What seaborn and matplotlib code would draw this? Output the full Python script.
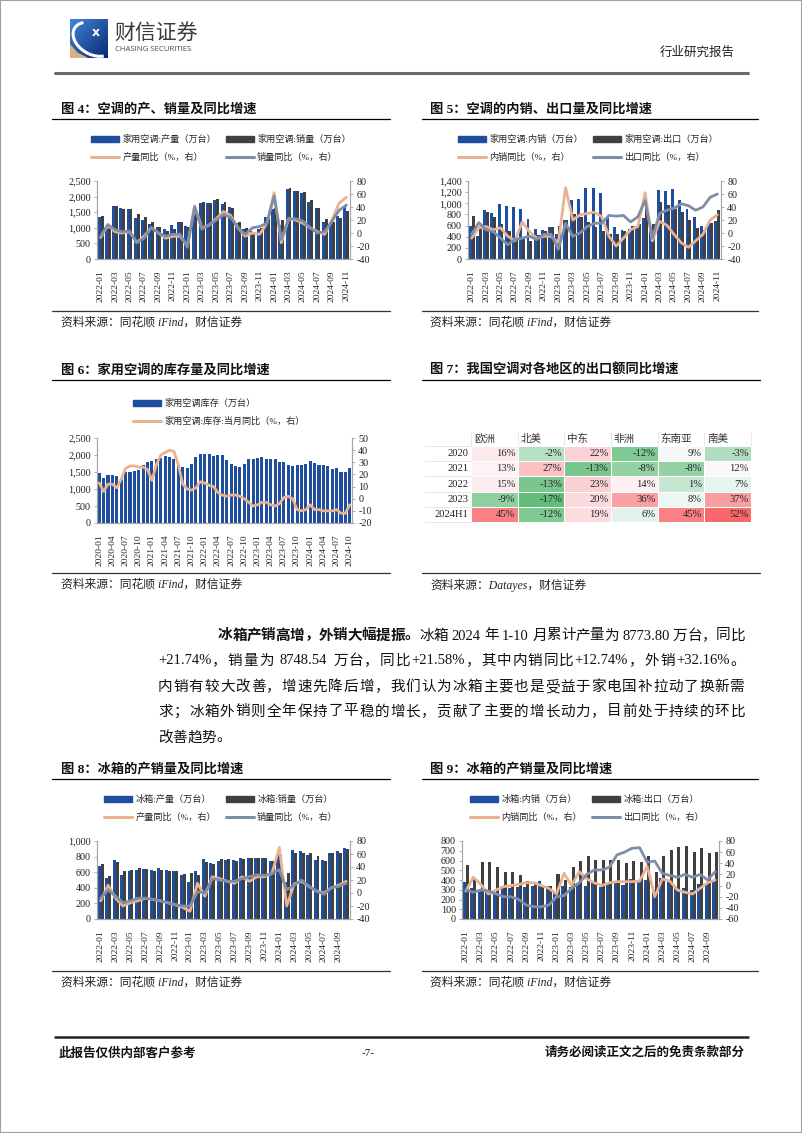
import re
import numpy as np
import pandas as pd
import matplotlib
matplotlib.use('Agg')
import matplotlib.pyplot as plt
import seaborn as sns
from matplotlib.colors import LinearSegmentedColormap, TwoSlopeNorm
from matplotlib.lines import Line2D
from matplotlib.patches import Rectangle, Polygon, Arc
from matplotlib.ticker import FuncFormatter
from matplotlib.transforms import Affine2D

W, H = 802, 1133


def month_range(y0, m0, count):
    out = []
    y, m = y0, m0
    for _ in range(count):
        out.append(f'{y}-{m:02d}')
        m += 1
        if m > 12:
            y, m = y + 1, 1
    return out


# ---- 图4 空调产销 ----
ac_months = month_range(2022, 1, 35)
ac_prod = [1340, 950, 1690, 1620, 1590, 1300, 1250, 1130, 1030, 950, 1100, 1170,
           1060, 1400, 1780, 1800, 1900, 1750, 1660, 1150, 950, 900, 950, 1350,
           1600, 1100, 2230, 2180, 2120, 1830, 1620, 1170, 1200, 1380, 1700]
ac_sales = [1370, 1000, 1710, 1600, 1610, 1450, 1350, 1200, 1030, 900, 960, 1170,
            1030, 1450, 1840, 1780, 1930, 1830, 1640, 1200, 1000, 870, 1000, 1370,
            1650, 1240, 2260, 2180, 2150, 1900, 1620, 1290, 1200, 1320, 1530]
ac_prod_yoy = [-7, 12, 2, 0, 2, -15, -5, 8, 0, -8, -5, -5,
               -20, 42, 8, 12, 22, 33, 27, 8, -5, 0, -2, 15,
               62, -15, 22, 20, 15, 8, 2, -2, 20, 46, 55]
ac_sales_yoy = [-5, 13, 5, 2, 3, -15, -8, 8, 0, -5, -2, -2,
                -22, 40, 6, 12, 20, 28, 24, 8, -2, 8, 10, 15,
                57, -10, 22, 22, 18, 8, 0, 2, 18, 35, 43]

# ---- 图5 空调内销/出口 ----
ac_dom = [590, 420, 880, 820, 980, 950, 930, 900, 720, 540, 520, 570,
          450, 700, 1060, 1080, 1270, 1270, 1180, 760, 570, 520, 530, 600,
          730, 500, 1230, 1220, 1250, 1060, 900, 760, 600, 650, 690]
ac_exp = [780, 600, 840, 760, 620, 500, 400, 380, 330, 430, 500, 580,
          600, 700, 800, 760, 660, 570, 500, 450, 440, 500, 600, 620,
          950, 620, 1020, 970, 900, 840, 700, 550, 520, 650, 880]
ac_dom_yoy = [-8, 8, 10, 5, 8, -5, -12, 17, 2, -8, -5, -5,
              -15, 70, 20, 28, 30, 32, 25, -5, -20, -8, 5, 10,
              62, -12, 18, 12, -2, -15, -22, -12, -2, 20, 28]
ac_exp_yoy = [-2, 16, 5, 2, -8, -18, -10, -8, -5, -10, -2, -2,
              -25, 15, -5, 0, 10, 15, 15, 27, 26, 27, 17, 25,
              50, -8, 30, 35, 38, 45, 42, 35, 40, 55, 60]

# ---- 图6 空调库存 ----
inv_months = month_range(2020, 1, 58)
inv_level = [1460, 1320, 1400, 1400, 1380, 1300, 1500, 1500, 1530, 1570, 1700, 1800,
             1820, 1870, 1920, 1960, 1940, 1880, 1720, 1640, 1620, 1740, 1940, 2040,
             2040, 2040, 1970, 2000, 2000, 1850, 1740, 1680, 1640, 1740, 1880, 1880,
             1910, 1940, 1880, 1880, 1880, 1800, 1800, 1710, 1680, 1710, 1710, 1740,
             1820, 1770, 1700, 1700, 1680, 1600, 1610, 1490, 1490, 1610]
inv_yoy = [13, 6, 12, 12, 9, 16, 25, 27, 27, 26, 26, 24,
           15, 28, 36, 38, 40, 39, 28, 12, 8, 7, 9, 14,
           13, 11, 10, 5, 3, 2, 3, 3, 2, 0, -3, -6,
           -5, -3, -3, -5, -6, -4, 1, 2, 0, -9, -10, -9,
           -5, -9, -9, -10, -10, -10, -9, -12, -12, -5]

# ---- 图7 出口额同比 ----
regions = ['欧洲', '北美', '中东', '非洲', '东南亚', '南美']
years = ['2020', '2021', '2022', '2023', '2024H1']
g2020 = [16, -2, 22, -12, 9, -3]
g2021 = [13, 27, -13, -8, -8, 12]
g2022 = [15, -13, 23, 14, 1, 7]
g2023 = [-9, -17, 20, 36, 8, 37]
g2024h1 = [45, -12, 19, 6, 45, 52]

# ---- 图8 冰箱产销 ----
fr_months = month_range(2022, 1, 34)
fr_prod = [680, 530, 760, 560, 610, 630, 640, 630, 650, 630, 610, 560,
           480, 610, 770, 720, 750, 760, 760, 780, 780, 780, 780, 750,
           830, 480, 880, 870, 820, 760, 760, 850, 870, 910]
fr_sales = [710, 550, 730, 610, 630, 650, 640, 620, 630, 610, 610, 580,
            590, 570, 730, 710, 770, 770, 750, 770, 780, 780, 780, 740,
            820, 590, 840, 840, 840, 810, 750, 850, 840, 900]
fr_prod_yoy = [-12, 12, -8, -20, -15, -12, -8, -10, -12, -15, -18, -22,
               -28, 15, -5, 25, 22, 18, 15, 25, 18, 25, 25, 30,
               70, -20, 14, 18, 10, 3, 0, 8, 12, 18]
fr_sales_yoy = [-8, 5, -5, -15, -12, -8, -8, -10, -12, -15, -18, -20,
                -20, 2, 0, 22, 20, 18, 18, 22, 25, 28, 27, 30,
                36, 5, 12, 20, 10, 3, -2, 8, 10, 15]

# ---- 图9 冰箱内销/出口 ----
fr_dom = [380, 320, 300, 300, 270, 340, 320, 330, 330, 340, 390, 340,
          280, 340, 330, 370, 340, 370, 330, 360, 370, 350, 410, 380,
          400, 300, 420, 380, 330, 320, 300, 360, 360, 400]
fr_exp = [550, 420, 580, 580, 530, 480, 480, 450, 390, 360, 350, 340,
          460, 400, 530, 590, 650, 610, 610, 610, 610, 570, 590, 580,
          650, 480, 650, 710, 740, 750, 690, 730, 680, 690]
fr_dom_yoy = [-10, 15, 2, -15, -8, -2, 0, 2, 5, 5, 0, -5,
              -15, 22, 0, 25, 12, 5, 0, 5, 7, 7, 7, 8,
              35, -20, 12, 8, -8, -12, -15, -5, 5, 10]
fr_exp_yoy = [-8, -12, -8, -10, -15, -20, -20, -25, -35, -38, -38, -35,
              -20, -18, -5, 5, 20, 28, 28, 33, 55, 60, 67, 68,
              42, 44, 22, 18, 15, 20, 15, 20, 10, 25]

BLUE = '#1F4E9E'
DARK = '#404040'
TAN = '#E8B38E'
GREYBLUE = '#7F8EA8'
SPINE = '#A6A6A6'

sns.set_theme(style='white')
plt.rcParams['font.family'] = ['Liberation Serif', 'Noto Sans CJK SC']
plt.rcParams['axes.unicode_minus'] = False

fig = plt.figure(figsize=(W / 100, H / 100), dpi=100)
PX = Affine2D().scale(1 / W, -1 / H).translate(0, 1) + fig.transFigure


def px_rect(x0, y0, x1, y1):
    return [x0 / W, 1 - y1 / H, (x1 - x0) / W, (y1 - y0) / H]


def hline(x0, x1, y, lw=0.9, color='black'):
    fig.add_artist(Line2D([x0, x1], [y, y], transform=PX, color=color, lw=lw))


def caption(x, y, text, x0, x1):
    fig.text(x, y, text, transform=PX, fontsize=9.5, fontweight='bold', va='center', ha='left', color='#111')
    hline(x0, x1, y + 10)


def source(x, y, text, x0, x1):
    hline(x0, x1, y - 12, lw=0.9, color='#333')
    fig.text(x, y, text, transform=PX, fontsize=8.5, style='italic', va='center', ha='left', color='#222')


def combo(box, months, bar_vals, bar_names, bar_colors, line_vals, line_names, line_colors,
          ylim, ystep, y2lim, y2step, every, leg_cx, leg_top, ncol=2, bar_width=0.8):
    ax = fig.add_axes(px_rect(*box))
    n = len(months)
    df = pd.DataFrame({
        '月份': np.tile(months, len(bar_vals)),
        '数值': np.concatenate(bar_vals),
        '系列': np.repeat(bar_names, n),
    })
    sns.barplot(data=df, x='月份', y='数值', hue='系列', hue_order=bar_names, palette=bar_colors,
                width=bar_width, gap=0, saturation=1, linewidth=0, legend=False, ax=ax)
    ax2 = ax.twinx()
    for vals, name, c in zip(line_vals, line_names, line_colors):
        sns.lineplot(x=np.arange(n), y=vals, color=c, lw=2.0, legend=False, ax=ax2)
    ax.set_xlim(-0.5, n - 0.5)
    ticks = list(range(0, n, every))
    ax.set_xticks(ticks)
    ax.set_xticklabels([months[i] for i in ticks], rotation=90)
    ax.set_ylim(*ylim)
    ax.set_yticks(np.arange(ylim[0], ylim[1] + 1, ystep))
    ax.yaxis.set_major_formatter(FuncFormatter(lambda v, p: f'{v:,.0f}'))
    ax2.set_ylim(*y2lim)
    ax2.set_yticks(np.arange(y2lim[0], y2lim[1] + 1, y2step))
    ax.set_xlabel('')
    ax.set_ylabel('')
    ax2.set_ylabel('')
    for a in (ax, ax2):
        for s in a.spines.values():
            s.set_color(SPINE)
            s.set_linewidth(0.8)
        a.spines['top'].set_visible(False)
    ax.tick_params(axis='y', left=True, labelsize=7.3, length=2.5, width=0.6, color=SPINE, pad=2, labelcolor='#222')
    ax2.tick_params(axis='y', right=True, labelsize=7.3, length=2.5, width=0.6, color=SPINE, pad=2, labelcolor='#222')
    ax.tick_params(axis='x', bottom=False, labelsize=6.8, pad=2, labelcolor='#222')

    handles, labels = [], []
    bars = [Rectangle((0, 0), 1, 1, color=c) for c in bar_colors]
    lines = [Line2D([], [], color=c, lw=2.2) for c in line_colors]
    if ncol == 2:
        for b, bn, l, ln in zip(bars, bar_names, lines, line_names):
            handles += [b, l]
            labels += [bn, ln]
    else:
        handles = bars + lines
        labels = list(bar_names) + list(line_names)
    fig.legend(handles, labels, loc='upper center', bbox_to_anchor=(leg_cx, leg_top), bbox_transform=PX,
               ncol=ncol, frameon=False, prop={'size': 6.6}, handlelength=3.0, handleheight=0.75,
               handletextpad=0.4, columnspacing=1.1, labelspacing=0.95, borderpad=0, borderaxespad=0)
    return ax, ax2


# ---------------- page header ----------------
fig.add_artist(Rectangle((0, 0), 1, 1, transform=fig.transFigure, fill=False, ec='#a0a0a0', lw=1.5))

logo = fig.add_axes(px_rect(70, 19, 108, 58))
grad = np.linspace(0, 1, 60)
gx, gy = np.meshgrid(grad, grad)
t = (gx + gy) / 2
c0 = np.array([0.26, 0.52, 0.85])
c1 = np.array([0.04, 0.16, 0.45])
img = c0[None, None, :] * (1 - t[..., None]) + c1[None, None, :] * t[..., None]
logo.imshow(img, extent=(0, 1, 0, 1), origin='upper', aspect='auto')
logo.add_patch(Polygon([(0, 0), (0.48, 0), (0.2, 0.14), (0, 0.36)], closed=True, color='#D9AE8A', lw=0))
logo.add_patch(Arc((0.62, 0.48), 1.15, 0.78, angle=-28, theta1=150, theta2=330, color='white', lw=2.2))
logo.text(0.68, 0.66, 'x', color='white', fontsize=9, fontweight='bold', ha='center', va='center',
          family='DejaVu Sans')
logo.set_xlim(0, 1)
logo.set_ylim(0, 1)
logo.axis('off')

fig.text(114, 33, '财信证券', transform=PX, fontsize=15, family='Noto Sans CJK SC', color='#3a3a3a',
         va='center', ha='left')
fig.text(115, 49.5, 'CHASING SECURITIES', transform=PX, fontsize=5.6, family='Open Sans', color='#4a4a4a',
         va='center', ha='left')
fig.text(735, 53, '行业研究报告', transform=PX, fontsize=9, color='#222', va='center', ha='right')
hline(55, 748, 73, lw=2.2, color='#6a6a6a')

# ---------------- figure 4 ----------------
caption(61, 109, '图 4：空调的产、销量及同比增速', 52, 390)
combo((97, 181, 350, 259), ac_months, [ac_prod, ac_sales], ['家用空调:产量（万台）', '家用空调:销量（万台）'],
      [BLUE, DARK], [ac_prod_yoy, ac_sales_yoy], ['产量同比（%，右）', '销量同比（%，右）'], [TAN, GREYBLUE],
      (0, 2500), 500, (-40, 80), 20, 2, 221, 135)
source(61, 323, '资料来源：同花顺 iFind，财信证券', 52, 390)

# ---------------- figure 5 ----------------
caption(430, 109, '图 5：空调的内销、出口量及同比增速', 422, 758)
combo((468, 181, 721, 259), ac_months, [ac_dom, ac_exp], ['家用空调:内销（万台）', '家用空调:出口（万台）'],
      [BLUE, DARK], [ac_dom_yoy, ac_exp_yoy], ['内销同比（%，右）', '出口同比（%，右）'], [TAN, GREYBLUE],
      (0, 1400), 200, (-40, 80), 20, 2, 588, 135)
source(430, 323, '资料来源：同花顺 iFind，财信证券', 422, 758)

# ---------------- figure 6 ----------------
caption(61, 370, '图 6：家用空调的库存量及同比增速', 52, 390)
combo((97, 438, 352, 523), inv_months, [inv_level], ['家用空调库存（万台）'], [BLUE],
      [inv_yoy], ['家用空调:库存:当月同比（%，右）'], [TAN],
      (0, 2500), 500, (-20, 50), 10, 3, 219, 399, ncol=1, bar_width=0.7)
source(61, 585, '资料来源：同花顺 iFind，财信证券', 52, 390)

# ---------------- figure 7 ----------------
caption(430, 370, '图 7：我国空调对各地区的出口额同比增速', 422, 760)
hm = pd.DataFrame([g2020, g2021, g2022, g2023, g2024h1], index=years, columns=regions)
cmap = LinearSegmentedColormap.from_list('cs', ['#63BE7B', '#FCFCFF', '#F8696B'])
hm_ax = fig.add_axes(px_rect(471, 446, 751, 522))
sns.heatmap(hm, ax=hm_ax, cmap=cmap, norm=TwoSlopeNorm(vmin=-17, vcenter=10.5, vmax=52), cbar=False,
            annot=hm.map(lambda v: f'{v}%'), fmt='', linewidths=0.6, linecolor='white',
            xticklabels=regions, yticklabels=years,
            annot_kws={'fontsize': 7.6, 'color': '#222'})
for txt in hm_ax.texts:
    x, y = txt.get_position()
    txt.set_position((x + 0.45, y))
    txt.set_ha('right')
hm_ax.xaxis.tick_top()
hm_ax.set_xticks(np.arange(len(regions)) + 0.06)
hm_ax.set_xticklabels(regions, ha='left', rotation=0)
hm_ax.set_yticks(np.arange(len(years)) + 0.5)
hm_ax.set_yticklabels(years, rotation=0)
hm_ax.tick_params(axis='x', length=0, pad=1.5, labelsize=7.6, labelcolor='#333')
hm_ax.tick_params(axis='y', length=0, pad=2, labelsize=7.6, labelcolor='#222')
hm_ax.set_xlabel('')
hm_ax.set_ylabel('')
hm_ax.vlines(np.arange(len(regions) + 1), -0.93, 0, color='#E3E3E3', lw=0.6, clip_on=False)
for r in range(len(years) + 1):
    hm_ax.plot([-0.164 * len(regions), 0], [r, r], color='#E3E3E3', lw=0.6, clip_on=False)
source(430, 585, '资料来源：Datayes，财信证券', 422, 760)

# ---------------- paragraph ----------------
renderer = fig.canvas.get_renderer()
SPACE_W = 4.0


def text_line(y, x0, x1, parts, justify=True):
    items = []
    for s, weight in parts:
        for tok in re.findall(r'[0-9A-Za-z.+%\-]+| |.', s):
            items.append((tok, weight))
    arts, widths = [], []
    for tok, weight in items:
        if tok == ' ':
            arts.append(None)
            widths.append(SPACE_W)
            continue
        tt = fig.text(0, y, tok, transform=PX, fontsize=10.5, fontweight=weight, va='center', ha='left',
                      color='#111')
        arts.append(tt)
        widths.append(tt.get_window_extent(renderer).width)
    extra = (x1 - x0 - sum(widths)) / (len(arts) - 1) if justify else 0
    x = x0
    for a, w in zip(arts, widths):
        if a is not None:
            a.set_x(x)
        x += w + extra


text_line(636, 218, 745, [('冰箱产销高增，外销大幅提振。', 'bold'),
                          ('冰箱 2024 年 1-10 月累计产量为 8773.80 万台，同比', 'normal')])
text_line(661, 158, 745, [('+21.74%，销量为 8748.54 万台，同比+21.58%，其中内销同比+12.74%，外销+32.16%。', 'normal')])
text_line(687, 158, 745, [('内销有较大改善，增速先降后增，我们认为冰箱主要也是受益于家电国补拉动了换新需', 'normal')])
text_line(712, 158, 745, [('求；冰箱外销则全年保持了平稳的增长，贡献了主要的增长动力，目前处于持续的环比', 'normal')])
text_line(738, 158, 745, [('改善趋势。', 'normal')], justify=False)

# ---------------- figure 8 ----------------
caption(61, 769, '图 8：冰箱的产销量及同比增速', 52, 390)
combo((97, 841, 350, 919), fr_months, [fr_prod, fr_sales], ['冰箱:产量（万台）', '冰箱:销量（万台）'],
      [BLUE, DARK], [fr_prod_yoy, fr_sales_yoy], ['产量同比（%，右）', '销量同比（%，右）'], [TAN, GREYBLUE],
      (0, 1000), 200, (-40, 80), 20, 2, 221, 795)
source(61, 983, '资料来源：同花顺 iFind，财信证券', 52, 390)

# ---------------- figure 9 ----------------
caption(430, 769, '图 9：冰箱的产销量及同比增速', 422, 758)
combo((462, 841, 719, 919), fr_months, [fr_dom, fr_exp], ['冰箱:内销（万台）', '冰箱:出口（万台）'],
      [BLUE, DARK], [fr_dom_yoy, fr_exp_yoy], ['内销同比（%，右）', '出口同比（%，右）'], [TAN, GREYBLUE],
      (0, 800), 100, (-60, 80), 20, 2, 587, 795)
source(430, 983, '资料来源：同花顺 iFind，财信证券', 422, 758)

# ---------------- footer ----------------
hline(55, 748, 1037, lw=1.8, color='#222')
fig.text(59, 1053, '此报告仅供内部客户参考', transform=PX, fontsize=9, fontweight='bold', va='center', ha='left',
         color='#111')
fig.text(368, 1053, '-7-', transform=PX, fontsize=8, va='center', ha='center', color='#111')
fig.text(745, 1053, '请务必阅读正文之后的免责条款部分', transform=PX, fontsize=9, fontweight='bold', va='center',
         ha='right', color='#111')

fig.savefig('out.png', dpi=100)
